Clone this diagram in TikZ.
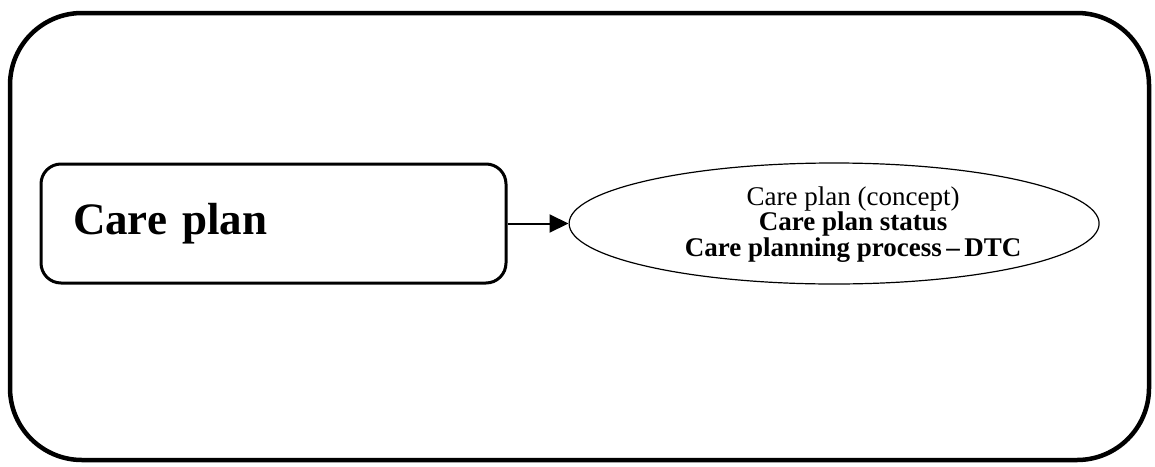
\documentclass[tikz,border=0pt]{standalone}
\usepackage{fontspec}
\setmainfont{Liberation Serif}
\usetikzlibrary{arrows.meta,shapes.geometric,positioning}
\tikzstyle{frame}=[line width=4.5pt,rounded corners=72pt]
\tikzstyle{topic}=[draw,line width=3pt,rounded corners=20pt,minimum height=119pt,text width=401pt,inner xsep=32pt,inner ysep=0pt,align=left,font=\fontsize{45}{50}\selectfont\bfseries]
\tikzstyle{concept}=[draw,ellipse,line width=1.2pt,minimum width=530pt,minimum height=121pt,inner sep=0pt]
\tikzstyle{post}=[line width=2pt,-{Triangle[length=19pt,width=18pt]}]

\begin{document}
\begin{tikzpicture}[x=1pt,y=-1pt]
    \useasboundingbox (0,0) rectangle (1155,466);
    \draw[frame] (10,13) rectangle (1149,460);

    \node[topic](careplan) at (273.5,223.5) {Care plan};
    \node[concept](concepts) [right=61pt of careplan] {};
    \node[align=center,inner sep=0pt,font=\fontsize{27}{23.5}\selectfont](conceptlist) at ([xshift=19pt,yshift=-1pt]concepts.center)
    {Care plan (concept)\\ \textbf{Care plan status}\\ \textbf{Care planning process\,--\,DTC}};

    \draw[post] (careplan) -- (concepts);
\end{tikzpicture}
\end{document}
